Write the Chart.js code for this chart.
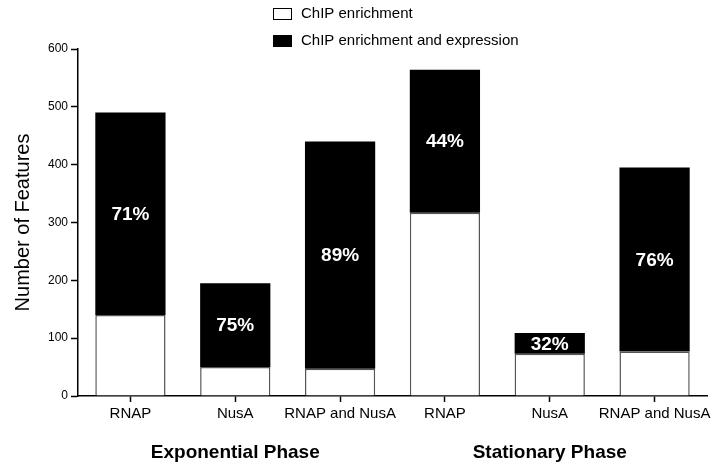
<!DOCTYPE html>
<html>
<head>
<meta charset="utf-8">
<script src="https://cdn.jsdelivr.net/npm/chart.js@4/dist/chart.umd.min.js"></script>
<style>
  html, body { margin: 0; padding: 0; background: #fff; }
  #wrap { width: 715px; height: 469px; position: relative; }
</style>
</head>
<body>
<div id="wrap"><canvas id="grafico" width="715" height="469"></canvas></div>
<script>
// Datos del gráfico
const categorias = ['RNAP', 'NusA', 'RNAP and NusA', 'RNAP', 'NusA', 'RNAP and NusA'];
const soloChip = [140, 50, 47, 317, 73, 77];
const chipExpresion = [350, 145, 393, 247, 36, 318];
const porcentajes = ['71%', '75%', '89%', '44%', '32%', '76%'];
const fases = ['Exponential Phase', 'Stationary Phase'];
const faseIndices = [[0, 1, 2], [3, 4, 5]];
const ticksY = [0, 100, 200, 300, 400, 500, 600];

const fuente = "'Liberation Sans', Arial, sans-serif";

// Plugin para porcentajes, fases y leyenda
const extras = {
    id: 'extras',
    afterDatasetsDraw(chart) {
        const ctx = chart.ctx;
        const meta = chart.getDatasetMeta(1);
        ctx.save();
        ctx.fillStyle = '#fff';
        ctx.font = 'bold 19px ' + fuente;
        ctx.textAlign = 'center';
        ctx.textBaseline = 'middle';
        meta.data.forEach((bar, i) => {
            ctx.fillText(porcentajes[i], bar.x, (bar.y + bar.base) / 2 + 1);
        });
        ctx.restore();
    },
    afterDraw(chart) {
        const ctx = chart.ctx;
        const x = chart.scales.x;
        ctx.save();
        // Nombres de las fases
        ctx.fillStyle = '#000';
        ctx.font = 'bold 19px ' + fuente;
        ctx.textAlign = 'center';
        ctx.textBaseline = 'middle';
        fases.forEach((fase, k) => {
            const idx = faseIndices[k];
            const centro = x.getPixelForValue(idx[Math.floor(idx.length / 2)]);
            ctx.fillText(fase, centro, 453);
        });
        // Leyenda vertical
        ctx.font = '15px ' + fuente;
        ctx.textAlign = 'left';
        chart.data.datasets.forEach((ds, i) => {
            const yc = 14 + i * 27;
            ctx.fillStyle = ds.backgroundColor;
            ctx.fillRect(273, yc - 6, 19, 12);
            ctx.strokeStyle = '#000';
            ctx.lineWidth = 1;
            ctx.strokeRect(273.5, yc - 5.5, 18, 11);
            ctx.fillStyle = '#000';
            ctx.fillText(ds.label, 301, yc);
        });
        ctx.restore();
    }
};

new Chart(document.getElementById('grafico'), {
    type: 'bar',
    data: {
        labels: categorias,
        datasets: [
            {
                label: 'ChIP enrichment',
                data: soloChip,
                backgroundColor: '#ffffff',
                borderColor: '#555',
                borderWidth: 1.5,
                barPercentage: 0.67,
                categoryPercentage: 1
            },
            {
                label: 'ChIP enrichment and expression',
                data: chipExpresion,
                backgroundColor: '#000000',
                borderColor: '#000',
                borderWidth: 0,
                barPercentage: 0.67,
                categoryPercentage: 1
            }
        ]
    },
    options: {
        responsive: false,
        animation: false,
        layout: { padding: { top: 49, right: 8, bottom: 0, left: 0 } },
        plugins: {
            legend: { display: false },
            tooltip: { enabled: false }
        },
        scales: {
            x: {
                stacked: true,
                afterFit: (scale) => { scale.height = 73; },
                grid: {
                    display: true,
                    offset: false,
                    drawOnChartArea: false,
                    tickLength: 6,
                    tickColor: '#000',
                    tickWidth: 1.5
                },
                border: { color: '#000', width: 1.5 },
                ticks: {
                    color: '#000',
                    font: { family: fuente, size: 15 },
                    padding: 3,
                    maxRotation: 0,
                    autoSkip: false
                }
            },
            y: {
                stacked: true,
                min: 0,
                max: 600,
                afterFit: (scale) => { scale.width = 78; },
                afterBuildTicks: (scale) => { scale.ticks = ticksY.map(v => ({ value: v })); },
                grid: {
                    display: true,
                    drawOnChartArea: false,
                    tickLength: 7,
                    tickColor: '#000',
                    tickWidth: 1.5
                },
                border: { color: '#000', width: 1.5 },
                ticks: {
                    color: '#000',
                    font: { family: fuente, size: 12 },
                    padding: 3
                },
                title: {
                    display: true,
                    text: 'Number of Features',
                    color: '#000',
                    font: { family: fuente, size: 20 },
                    padding: { top: 11, bottom: 0 }
                }
            }
        }
    },
    plugins: [extras]
});
</script>
</body>
</html>
